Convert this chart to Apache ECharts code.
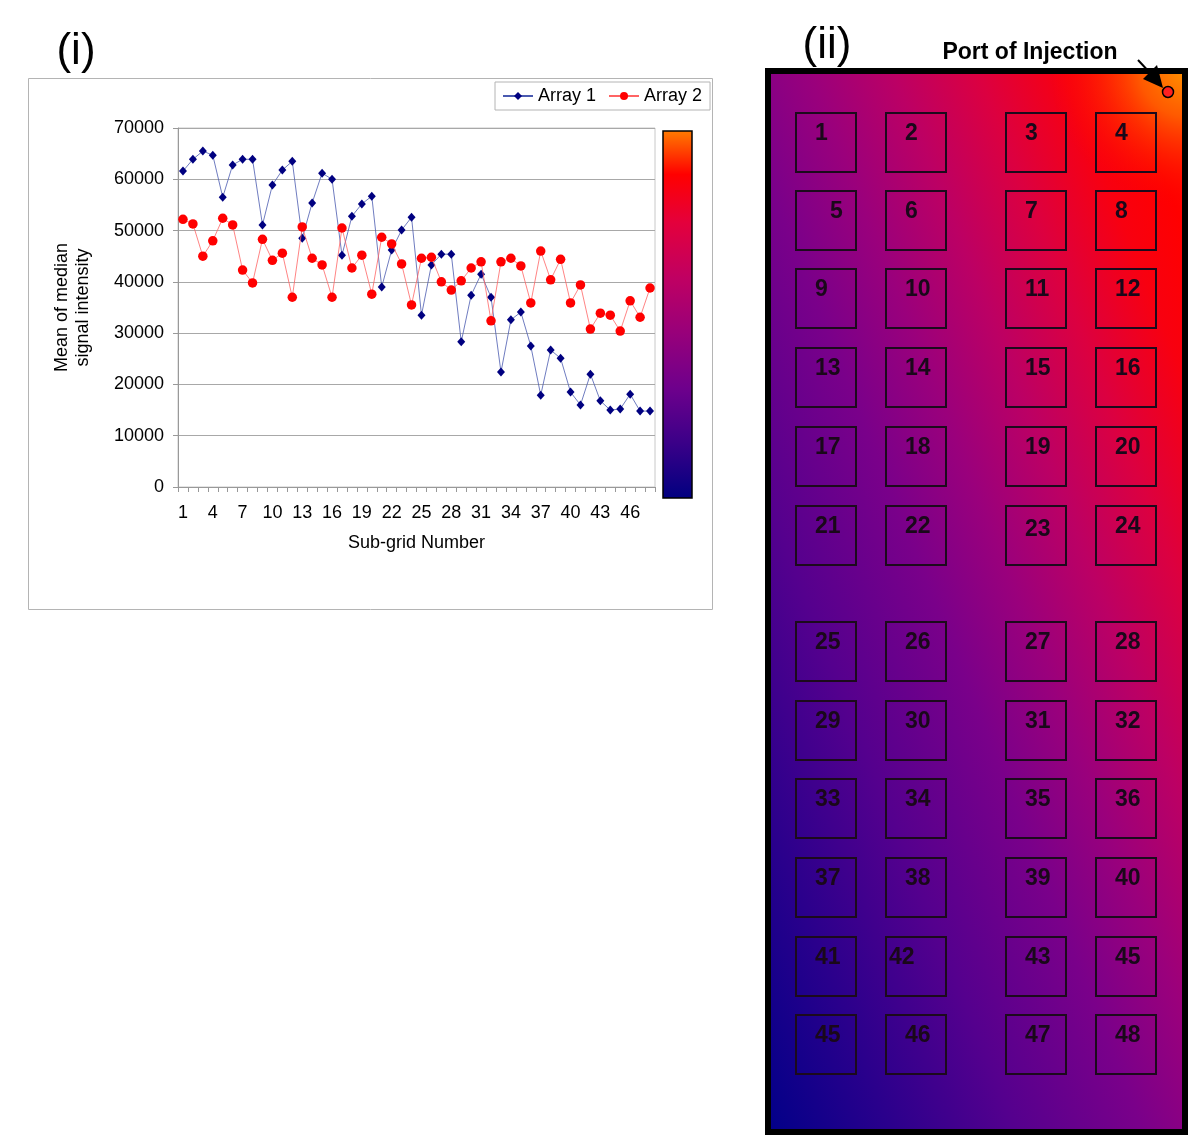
<!DOCTYPE html>
<html>
<head>
<meta charset="utf-8">
<script src="https://cdn.jsdelivr.net/npm/echarts@6/dist/echarts.min.js"></script>
<style>
html,body{margin:0;padding:0;background:#fff;}
#chart{width:1200px;height:1147px;}
</style>
</head>
<body>
<div id="chart"></div>
<script>
// ---------- data ----------
var subGridNumbers = [];
for (var n = 1; n <= 48; n++) subGridNumbers.push(String(n));

var array1 = [61600, 63900, 65500, 64700, 56500, 62800, 63900, 63900, 51100, 58900,
              61800, 63500, 48500, 55400, 61200, 60000, 45200, 52800, 55200, 56700,
              39000, 46200, 50100, 52600, 33500, 43300, 45400, 45400, 28300, 37400,
              41500, 37000, 22400, 32600, 34100, 27500, 17900, 26700, 25100, 18500,
              16000, 22000, 16800, 15000, 15200, 18100, 14800, 14800];

var array2 = [52200, 51300, 45000, 48000, 52400, 51100, 42300, 39800, 48300, 44200,
              45600, 37000, 50700, 44600, 43300, 37000, 50500, 42700, 45200, 37600,
              48700, 47400, 43500, 35500, 44600, 44800, 40000, 38400, 40200, 42700,
              43900, 32400, 43900, 44600, 43100, 35900, 46000, 40400, 44400, 35900,
              39400, 30800, 33900, 33500, 30400, 36300, 33100, 38800];

var seriesNames = ['Array 1', 'Array 2'];
var yTicks = [0, 10000, 20000, 30000, 40000, 50000, 60000, 70000];

// labels printed on the 48 sub-grids of the slide schematic (as printed, incl. duplicate "45")
var slideLabels = ['1','2','3','4','5','6','7','8','9','10','11','12','13','14','15','16',
                   '17','18','19','20','21','22','23','24','25','26','27','28','29','30','31','32',
                   '33','34','35','36','37','38','39','40','41','42','43','45','45','46','47','48'];

// ---------- layout (schematic coordinates, px inside panel) ----------
var colLeft = [31, 121, 241, 331];
var rowTop = [45, 123, 201, 280, 359, 438, 554, 633, 711, 790, 869, 947];
var boxW = 60, boxH = 59;
var labelDx = {4: 34, 41: 3};
var labelDy = {22: 3};

var slideData = slideLabels.map(function (l, i) {
  return [colLeft[i % 4], rowTop[Math.floor(i / 4)]];
});

var FONT = '"Liberation Sans", Arial, sans-serif';

var chart = echarts.init(document.getElementById('chart'), null, {renderer: 'canvas'});

var option = {
  animation: false,
  backgroundColor: '#ffffff',
  textStyle: {fontFamily: FONT},
  legend: {
    data: seriesNames,
    left: 495, top: 82,
    padding: [5, 8, 5, 7],
    itemGap: 12,
    itemWidth: 30, itemHeight: 10,
    backgroundColor: '#ffffff',
    borderColor: '#b4b4b4', borderWidth: 1,
    textStyle: {fontSize: 18, color: '#000', fontFamily: FONT}
  },
  grid: [
    {left: 178, top: 128, width: 477, height: 359, show: true, borderColor: '#c8c8c8', borderWidth: 1, backgroundColor: 'transparent'},
    {left: 765, top: 68, width: 423, height: 1067}
  ],
  xAxis: [
    {
      gridIndex: 0, type: 'category', data: subGridNumbers, boundaryGap: true,
      axisLine: {lineStyle: {color: '#999'}},
      axisTick: {show: true, interval: 0, length: 5, lineStyle: {color: '#999'}},
      axisLabel: {interval: 2, fontSize: 18, color: '#000', margin: 17, fontFamily: FONT},
      name: 'Sub-grid Number', nameLocation: 'middle', nameGap: 47,
      nameTextStyle: {fontSize: 18, color: '#000', fontFamily: FONT}
    },
    {gridIndex: 1, type: 'value', min: 0, max: 423, show: false}
  ],
  yAxis: [
    {
      gridIndex: 0, type: 'value', min: yTicks[0], max: yTicks[yTicks.length - 1], interval: yTicks[1] - yTicks[0],
      axisLine: {show: true, lineStyle: {color: '#999'}},
      axisTick: {show: true, length: 5, lineStyle: {color: '#999'}},
      axisLabel: {fontSize: 18, color: '#000', margin: 14, fontFamily: FONT,
                  formatter: function (v) { return String(v); }},
      splitLine: {lineStyle: {color: '#a8a8a8', width: 1}},
      name: 'Mean of median\nsignal intensity', nameLocation: 'middle', nameGap: 84,
      nameTextStyle: {fontSize: 18, color: '#000', lineHeight: 21, fontFamily: FONT}
    },
    {gridIndex: 1, type: 'value', min: 0, max: 1067, inverse: true, show: false}
  ],
  series: [
    {
      name: seriesNames[0], type: 'line', xAxisIndex: 0, yAxisIndex: 0,
      data: array1, symbol: 'diamond', symbolSize: [8, 9], showAllSymbol: true,
      itemStyle: {color: '#000080'},
      lineStyle: {color: '#4a5ab0', width: 0.8},
      z: 3
    },
    {
      name: seriesNames[1], type: 'line', xAxisIndex: 0, yAxisIndex: 0,
      data: array2, symbol: 'circle', symbolSize: 9.5, showAllSymbol: true,
      itemStyle: {color: '#ff0000'},
      lineStyle: {color: '#ff6464', width: 0.8},
      z: 4
    },
    {
      name: 'slide', type: 'custom', xAxisIndex: 1, yAxisIndex: 1,
      data: slideData, z: 5, silent: true,
      renderItem: function (params, api) {
        var x = api.value(0), y = api.value(1);
        var p1 = api.coord([x, y]);
        var p2 = api.coord([x + boxW, y + boxH]);
        var i = params.dataIndex;
        var dx = labelDx[i] !== undefined ? labelDx[i] : 19;
        var dy = labelDy[i] || 0;
        return {
          type: 'group',
          children: [
            {type: 'rect', shape: {x: p1[0], y: p1[1], width: p2[0] - p1[0], height: p2[1] - p1[1]},
             style: {fill: 'none', stroke: '#1c0a1c', lineWidth: 2}},
            {type: 'text', x: p1[0] + dx, y: p1[1] + 21 + dy,
             style: {text: slideLabels[i], fill: '#1a081a', font: 'bold 23px ' + FONT,
                     textAlign: 'left', textVerticalAlign: 'middle'}}
          ]
        };
      }
    }
  ],
  graphic: [
    // chart area frame of panel (i)
    {type: 'rect', z: 0, shape: {x: 28.5, y: 78.5, width: 684, height: 531},
     style: {fill: 'none', stroke: '#b4b4b4', lineWidth: 1}},
    // colour bar
    {type: 'rect', z: 1, shape: {x: 663, y: 131, width: 29, height: 367},
     style: {
       fill: new echarts.graphic.LinearGradient(0, 0, 0, 1, [
         {offset: 0, color: '#ff7c00'}, {offset: 0.12, color: '#ff0000'},
         {offset: 0.25, color: '#e4003c'}, {offset: 0.4, color: '#c00062'},
         {offset: 0.55, color: '#98007a'}, {offset: 0.7, color: '#6e008c'},
         {offset: 0.85, color: '#3a0088'}, {offset: 1, color: '#000080'}]),
       stroke: '#000', lineWidth: 1.5}},
    // panel (ii) background gradient (diagonal, bottom-left -> top-right)
    {type: 'rect', z: 0, shape: {x: 765, y: 68, width: 423, height: 1067},
     style: {fill: new echarts.graphic.LinearGradient(611, 746, 1342, 457, [
       {offset: 0, color: '#000088'}, {offset: 0.15, color: '#2a008c'},
       {offset: 0.3, color: '#55008e'}, {offset: 0.45, color: '#7a008a'},
       {offset: 0.55, color: '#9a007c'}, {offset: 0.65, color: '#bc0064'},
       {offset: 0.75, color: '#dc0040'}, {offset: 0.85, color: '#f80010'},
       {offset: 0.92, color: '#ff0000'}, {offset: 1, color: '#ff1000'}], true)}},
    {type: 'rect', z: 1, shape: {x: 765, y: 68, width: 423, height: 1067},
     style: {fill: new echarts.graphic.RadialGradient(1188, 68, 140, [
       {offset: 0, color: 'rgba(255,150,0,1)'}, {offset: 0.35, color: 'rgba(255,110,0,0.8)'},
       {offset: 1, color: 'rgba(255,0,0,0)'}], true)}},
    // thick border
    {type: 'rect', z: 2, shape: {x: 768, y: 71, width: 417, height: 1061},
     style: {fill: 'none', stroke: '#000', lineWidth: 6}},
    // port of injection marker
    {type: 'circle', z: 6, shape: {cx: 1168, cy: 92, r: 5.5},
     style: {fill: '#ff2020', stroke: '#000', lineWidth: 1.5}},
    {type: 'line', z: 6, shape: {x1: 1138, y1: 60, x2: 1152, y2: 75},
     style: {stroke: '#000', lineWidth: 2}},
    {type: 'polygon', z: 6, shape: {points: [[1163, 88], [1143, 79], [1157, 65]]},
     style: {fill: '#000'}},
    // panel titles
    {type: 'text', z: 6, x: 76, y: 52,
     style: {text: '(i)', font: '44px ' + FONT, fill: '#000', textAlign: 'center', textVerticalAlign: 'middle'}},
    {type: 'text', z: 6, x: 827, y: 46,
     style: {text: '(ii)', font: '44px ' + FONT, fill: '#000', textAlign: 'center', textVerticalAlign: 'middle'}},
    {type: 'text', z: 6, x: 1030, y: 53,
     style: {text: 'Port of Injection', font: 'bold 23px ' + FONT, fill: '#000', textAlign: 'center', textVerticalAlign: 'middle'}}
  ]
};
chart.setOption(option);
</script>
</body>
</html>
